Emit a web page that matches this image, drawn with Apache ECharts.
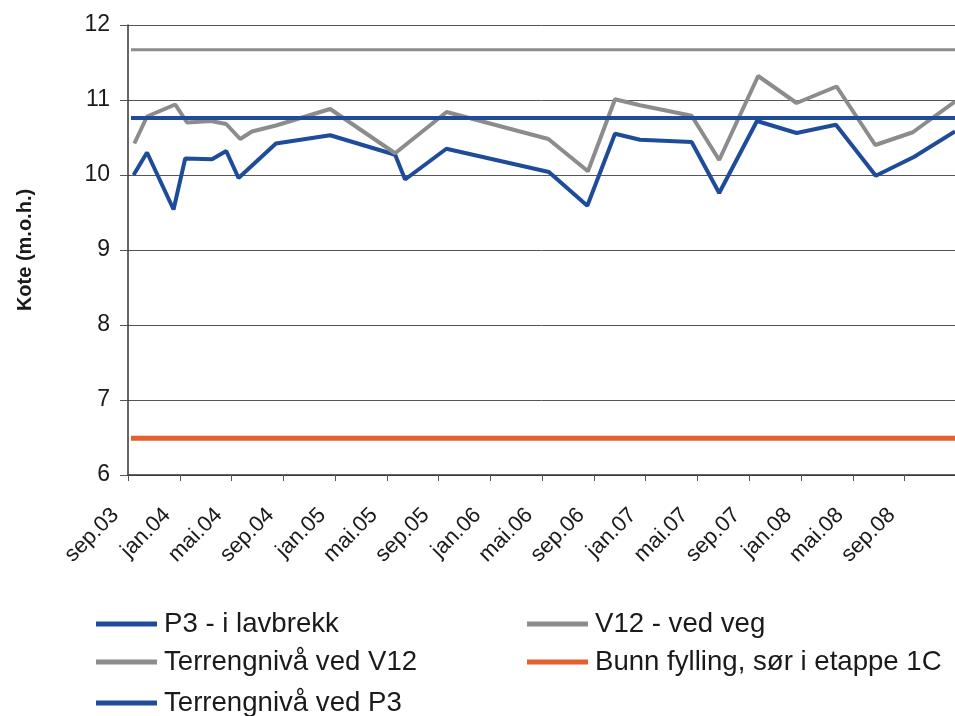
<!DOCTYPE html>
<html>
<head>
<meta charset="utf-8">
<script src="https://cdn.jsdelivr.net/npm/echarts@6/dist/echarts.min.js"></script>
<style>
  html, body { margin: 0; padding: 0; background: #fff; }
  #chart { width: 955px; height: 716px; }
</style>
</head>
<body>
<div id="chart"></div>
<script>
// x values are months counted from sep.03
const tickLabels = ['sep.03', 'jan.04', 'mai.04', 'sep.04', 'jan.05', 'mai.05', 'sep.05', 'jan.06',
  'mai.06', 'sep.06', 'jan.07', 'mai.07', 'sep.07', 'jan.08', 'mai.08', 'sep.08'];

const p3Months = [0.43, 1.47, 3.52, 4.42, 6.49, 7.59, 8.54, 11.43, 15.62, 20.64, 21.41, 24.6,
  32.52, 35.49, 37.63, 39.56, 43.55, 45.68, 48.6, 51.66, 54.7, 57.78, 60.72, 63.9];
const p3Values = [10.0, 10.30, 9.54, 10.22, 10.21, 10.32, 9.96, 10.42, 10.53, 10.27, 9.94, 10.35,
  10.04, 9.59, 10.55, 10.47, 10.44, 9.76, 10.72, 10.56, 10.67, 9.99, 10.24, 10.58];

const v12Months = [0.49, 1.47, 3.65, 4.56, 6.41, 7.59, 8.67, 9.58, 11.43, 15.62, 20.64, 24.62,
  32.48, 35.54, 37.63, 39.56, 43.55, 45.68, 48.69, 51.66, 54.75, 57.74, 60.64, 63.9];
const v12Values = [10.42, 10.78, 10.94, 10.70, 10.72, 10.68, 10.48, 10.58, 10.66, 10.88, 10.29, 10.84,
  10.48, 10.05, 11.01, 10.93, 10.79, 10.20, 11.32, 10.96, 11.18, 10.40, 10.57, 10.98];

const terrengV12 = 11.67;
const terrengP3 = 10.76;
const bunnFylling = 6.49;

const xMax = 63.9;

const blue = '#1e4c9a';
const grey = '#8c8c8c';
const orange = '#e4602f';
const font = 'Liberation Sans, Arial, sans-serif';

const pairs = (xs, ys) => xs.map((x, i) => [x, ys[i]]);
const level = v => [[p3Months[0] - 0.2, v], [xMax, v]];

const lineSeries = (name, data, color, width) => ({
  name: name,
  type: 'line',
  data: data,
  symbol: 'none',
  lineStyle: { color: color, width: width },
  itemStyle: { color: color },
  animation: false
});

// one legend per entry so the rows and columns sit where the original has them
const legendItem = (name, left, top) => ({
  left: left,
  top: top,
  padding: 0,
  itemWidth: 61,
  itemHeight: 5,
  icon: 'rect',
  textStyle: { fontSize: 27.6, color: '#1a1a1a', fontFamily: font, lineHeight: 30, padding: [0, 0, 0, 2] },
  data: [name]
});

const chart = echarts.init(document.getElementById('chart'));

chart.setOption({
  backgroundColor: '#fff',
  grid: { left: 128, right: 0, top: 25, bottom: 241, outerBoundsMode: 'none' },
  xAxis: {
    type: 'value',
    min: 0,
    max: xMax,
    interval: 4,
    axisLine: { lineStyle: { color: '#333', width: 1.5 } },
    axisTick: { show: true, length: 6, lineStyle: { color: '#555' } },
    splitLine: { show: false },
    axisLabel: {
      rotate: 45,
      margin: 24,
      padding: [0, 18, 0, 0],
      fontSize: 22,
      color: '#1a1a1a',
      fontFamily: font,
      showMaxLabel: false,
      formatter: v => tickLabels[Math.round(v / 4)] || ''
    }
  },
  yAxis: {
    type: 'value',
    min: 6,
    max: 12,
    interval: 1,
    name: 'Kote (m.o.h.)',
    nameLocation: 'middle',
    nameGap: 93,
    nameTextStyle: { fontSize: 20, fontWeight: 'bold', color: '#1a1a1a', fontFamily: font },
    axisLine: { show: true, lineStyle: { color: '#333', width: 1.5 } },
    axisTick: { show: true, length: 8, lineStyle: { color: '#555' } },
    splitLine: { show: true, lineStyle: { color: '#555', width: 1 } },
    axisLabel: {
      margin: 18,
      fontSize: 23,
      color: '#1a1a1a',
      fontFamily: font
    }
  },
  legend: [
    legendItem('P3 - i lavbrekk', 96, 609),
    legendItem('Terrengnivå ved V12', 96, 647),
    legendItem('Terrengnivå ved P3', 96, 688),
    legendItem('V12 - ved veg', 527, 609),
    legendItem('Bunn fylling, sør i etappe 1C', 527, 647)
  ],
  series: [
    lineSeries('P3 - i lavbrekk', pairs(p3Months, p3Values), blue, 4),
    lineSeries('V12 - ved veg', pairs(v12Months, v12Values), grey, 4),
    lineSeries('Terrengnivå ved V12', level(terrengV12), grey, 3),
    lineSeries('Bunn fylling, sør i etappe 1C', level(bunnFylling), orange, 5),
    lineSeries('Terrengnivå ved P3', level(terrengP3), blue, 4)
  ]
});
</script>
</body>
</html>
